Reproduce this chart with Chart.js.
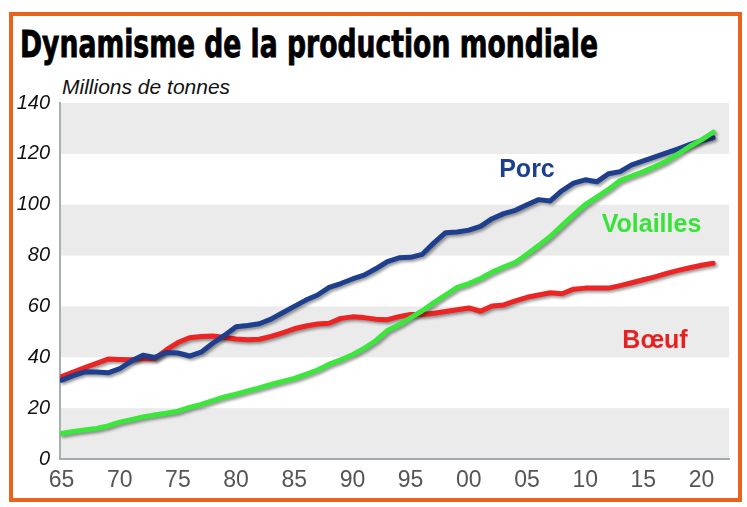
<!DOCTYPE html>
<html>
<head>
<meta charset="utf-8">
<script src="https://cdn.jsdelivr.net/npm/chart.js@4/dist/chart.umd.min.js"></script>
<style>
html,body{margin:0;padding:0;background:#fff;width:747px;height:507px;overflow:hidden}
#frame{position:absolute;left:9px;top:12px;width:725px;height:482px;border:4px solid #e8631c}
#title{position:absolute;left:20px;top:26px;font-family:"Liberation Sans Narrow","DejaVu Sans Condensed",sans-serif;font-weight:bold;font-size:37px;line-height:37px;white-space:nowrap;transform-origin:0 0;color:#000;-webkit-text-stroke:0.8px #000}
#unit{position:absolute;left:62px;top:76px;font-family:"Liberation Sans",Arial,sans-serif;font-style:italic;font-size:21px;line-height:21px;color:#111;white-space:nowrap}
#wrap{position:absolute;left:0;top:0;width:747px;height:507px}
</style>
</head>
<body>
<div id="frame"></div>
<div id="title">Dynamisme de la production mondiale</div>
<div id="unit">Millions de tonnes</div>
<div id="wrap"><canvas id="c" width="747" height="507"></canvas></div>
<script>
// ---- data ----
const years = [1965,1966,1967,1968,1969,1970,1971,1972,1973,1974,1975,1976,1977,1978,1979,
  1980,1981,1982,1983,1984,1985,1986,1987,1988,1989,1990,1991,1992,1993,1994,1995,1996,1997,
  1998,1999,2000,2001,2002,2003,2004,2005,2006,2007,2008,2009,2010,2011,2012,2013,2014,2015,
  2016,2017,2018,2019,2020,2021];
const porc = [31,32.8,34.3,34.2,33.9,35.5,38.5,40.8,39.9,41.9,41.7,40.5,42,45.5,48.6,
  52,52.5,53.2,55,57.5,60,62.5,64.5,67.5,69,70.8,72.3,74.8,77.6,79.1,79.3,80.5,85,
  89,89.3,90,91.5,94.5,96.5,97.8,100,102,101.5,105.5,108.5,109.8,109,112.2,113,115.7,117.2,
  118.8,120.4,122,123.7,125.2,126.3];
const volailles = [10,10.8,11.4,12,13,14.5,15.5,16.5,17.3,18,18.8,20.3,21.5,23,24.4,
  25.5,26.8,28,29.3,30.5,31.7,33.3,35,37.3,39,41,43.5,46.5,50.5,52.8,55.5,58.3,61.5,
  64.5,67.5,69,71,73.5,75.5,77.3,80.5,84,87.5,91.8,96,100,103,106,109.5,111.3,113,
  115,117.2,120,123,125.5,128.5];
const boeuf = [32.4,34.2,35.9,37.6,39.3,39.1,39,39.5,39.4,42.9,45.8,47.7,48.2,48.4,47.8,
  47.2,46.9,47.1,48.2,49.6,51.2,52.3,53.1,53.4,55.3,55.9,55.6,55,54.8,56,56.8,56.8,57.3,
  58,58.7,59.4,58.1,60.2,60.6,62.2,63.6,64.5,65.4,65,66.8,67.2,67.2,67.2,68.2,69.3,70.5,
  71.6,73,74.2,75.2,76.2,77];
const seriesNames = ['Porc','Volailles','Bœuf'];
const xTickYears = [1965,1970,1975,1980,1985,1990,1995,2000,2005,2010,2015,2020];
const xTickLabels = ['65','70','75','80','85','90','95','00','05','10','15','20'];
const yTicks = [0,20,40,60,80,100,120,140];
const greyBands = [[0,20],[40,60],[80,100],[120,140]];

// ---- styles ----
const colors = ['#1d3f8e','#3de63d','#ec2424'];
const labelColors = ['#1c3f8f','#38e238','#e82020'];
const labelPos = [[2005.0,113.8],[2015.7,92.1],[2016.0,46.5]];

function pts(arr){ return years.map((y,i)=>({x:y,y:arr[i]})); }

const bandPlugin = {
  id:'bands',
  beforeDraw(chart){
    const {ctx, chartArea:a, scales:{y}} = chart;
    ctx.save();
    ctx.fillStyle = '#ebebeb';
    greyBands.forEach(([lo,hi])=>{
      const t = y.getPixelForValue(hi), b = y.getPixelForValue(lo);
      ctx.fillRect(a.left, t, a.right-a.left, b-t);
    });
    ctx.restore();
  }
};
const shadowPlugin = {
  id:'shadow',
  beforeDatasetDraw(chart){
    const ctx = chart.ctx;
    ctx.save();
    ctx.shadowColor = 'rgba(0,0,0,0.4)';
    ctx.shadowBlur = 3;
    ctx.shadowOffsetX = 2;
    ctx.shadowOffsetY = 2;
  },
  afterDatasetDraw(chart){ chart.ctx.restore(); }
};
const labelPlugin = {
  id:'serieslabels',
  afterDatasetsDraw(chart){
    const {ctx, scales:{x,y}} = chart;
    ctx.save();
    ctx.font = 'bold 25px "Liberation Sans", Arial, sans-serif';
    ctx.textAlign = 'center';
    ctx.textBaseline = 'middle';
    seriesNames.forEach((n,i)=>{
      ctx.fillStyle = labelColors[i];
      ctx.fillText(n, x.getPixelForValue(labelPos[i][0]), y.getPixelForValue(labelPos[i][1]));
    });
    ctx.restore();
  }
};

const data = [porc, volailles, boeuf];
const drawOrder = [2,1,3];
new Chart(document.getElementById('c'), {
  type:'line',
  data:{
    datasets: data.map((d,i)=>({
      label: seriesNames[i],
      data: pts(d),
      borderColor: colors[i],
      backgroundColor: colors[i],
      borderWidth: 5,
      pointRadius: 0,
      tension: 0,
      fill: false,
      borderCapStyle: 'round',
      borderJoinStyle: 'round',
      order: drawOrder[i]
    }))
  },
  options:{
    responsive:false,
    animation:false,
    layout:{padding:{left:0,right:18,top:103,bottom:0}},
    plugins:{legend:{display:false},tooltip:{enabled:false},title:{display:false}},
    scales:{
      x:{
        type:'linear', min:1964.87, max:2022.36,
        afterFit(s){ s.height = 48; },
        afterBuildTicks(s){ s.ticks = xTickYears.map(v=>({value:v})); },
        ticks:{autoSkip:false, maxRotation:0, padding:8, color:'#555',
          font:{family:'"Liberation Sans Narrow", "Liberation Sans", sans-serif', size:23},
          callback:(v)=>xTickLabels[xTickYears.indexOf(v)]},
        grid:{display:false, drawTicks:false},
        border:{display:true, color:'#9fabad', width:2}
      },
      y:{
        min:0, max:140,
        afterFit(s){ s.width = 60; },
        afterBuildTicks(s){ s.ticks = yTicks.map(v=>({value:v})); },
        ticks:{padding:10, color:'#111',
          font:{family:'"Liberation Sans", Arial, sans-serif', size:20, style:'italic'}},
        grid:{display:false, drawTicks:false},
        border:{display:true, color:'#a5b0b0', width:2}
      }
    }
  },
  plugins:[bandPlugin, shadowPlugin, labelPlugin]
});

// fit title width to the reference
const t = document.getElementById('title');
const w = t.getBoundingClientRect().width;
t.style.transform = 'scaleX(' + (578 / w) + ')';
</script>
</body>
</html>
